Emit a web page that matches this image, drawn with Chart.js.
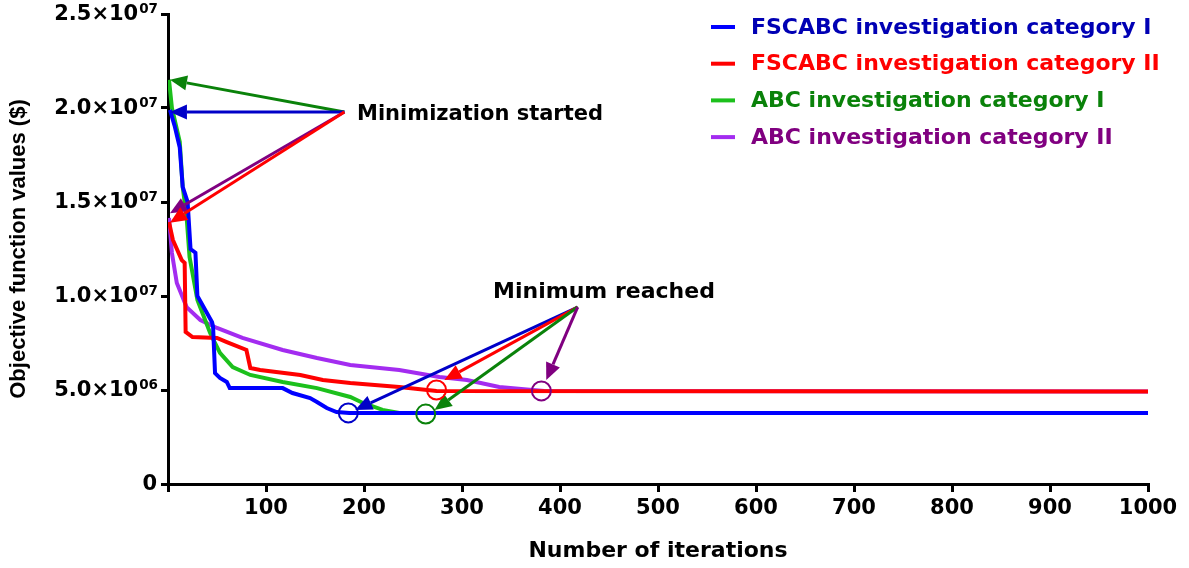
<!DOCTYPE html>
<html>
<head>
<meta charset="utf-8">
<script src="https://cdn.jsdelivr.net/npm/chart.js@4"></script>
<style>
  body { margin: 0; background: #fff; }
  #wrap { width: 1189px; height: 568px; }
</style>
</head>
<body>
<div id="wrap"><canvas id="myChart"></canvas></div>
<script>
// data (iterations / objective value in $)
const labels = ['FSCABC investigation category I', 'FSCABC investigation category II',
  'ABC investigation category I', 'ABC investigation category II'];

const iterBlue = [2, 7, 12, 15, 20, 23, 28, 30, 45, 46, 48, 53, 60, 63, 117, 127, 145, 152, 162, 172, 185, 1000];
const valBlue = [19.9e6, 19.0e6, 17.9e6, 15.8e6, 15.0e6, 12.5e6, 12.3e6, 10.0e6, 8.6e6, 8.35e6, 5.9e6, 5.64e6,
  5.43e6, 5.1e6, 5.1e6, 4.84e6, 4.57e6, 4.36e6, 4.04e6, 3.83e6, 3.78e6, 3.78e6];

const iterRed = [1, 5, 14, 17, 18, 25, 50, 60, 80, 84, 94, 135, 158, 186, 236, 274, 1000];
const valRed = [13.94e6, 12.98e6, 11.91e6, 11.76e6, 8.09e6, 7.82e6, 7.77e6, 7.55e6, 7.13e6, 6.17e6, 6.06e6,
  5.8e6, 5.53e6, 5.37e6, 5.16e6, 4.95e6, 4.92e6];

const iterGreen = [1, 4, 12, 15, 19, 22, 30, 43, 53, 66, 84, 117, 152, 186, 199, 219, 236, 1000];
const valGreen = [21.5e6, 20.0e6, 18.2e6, 15.8e6, 14.2e6, 12.07e6, 9.79e6, 8.03e6, 6.97e6, 6.22e6, 5.8e6,
  5.43e6, 5.1e6, 4.63e6, 4.31e6, 3.94e6, 3.78e6, 3.78e6];

const iterPurple = [1, 4, 9, 19, 33, 50, 76, 117, 152, 186, 236, 277, 305, 338, 372, 384, 1000];
const valPurple = [14.15e6, 12.29e6, 10.69e6, 9.41e6, 8.72e6, 8.3e6, 7.77e6, 7.13e6, 6.7e6, 6.33e6, 6.06e6,
  5.69e6, 5.53e6, 5.16e6, 5.0e6, 4.95e6, 4.92e6];

const yTickValues = [0, 5e6, 10e6, 15e6, 20e6, 25e6];
const yTickMantissa = ['0', '5.0', '1.0', '1.5', '2.0', '2.5'];
const yTickExp = ['', '06', '07', '07', '07', '07'];

// annotations, in data units
const startLabel = 'Minimization started';
const startFrom = [180, 19.79e6];
const startTips = [[2, 21.5e6], [2, 19.79e6], [2, 14.4e6], [2, 13.9e6]];
const minLabel = 'Minimum reached';
const minFrom = [418, 9.41e6];
const minTips = [[191, 3.94e6], [282, 5.53e6], [272, 3.94e6], [386, 5.53e6]];
const minCircles = [[184, 3.78e6], [274, 5.0e6], [263, 3.72e6], [381, 4.95e6]];

const lineColors = ['#0000ff', '#ff0000', '#1cc01c', '#a32cf0'];
const textColors = ['#0000b4', '#ff0000', '#0a820a', '#800080'];
const arrowStart = ['#0a820a', '#0000c8', '#800080', '#ff0000'];
const arrowMin = ['#0000c8', '#ff0000', '#0a820a', '#800080'];

function toPoints(xs, ys) {
  return xs.map((v, i) => ({ x: v, y: ys[i] }));
}

Chart.defaults.font.family = 'DejaVu Sans';
Chart.defaults.font.weight = 'bold';
Chart.defaults.color = '#000';

function arrow(ctx, x0, y0, x1, y1, color) {
  const ang = Math.atan2(y1 - y0, x1 - x0);
  const len = 17, half = 7.5;
  const bx = x1 - len * Math.cos(ang), by = y1 - len * Math.sin(ang);
  ctx.strokeStyle = color;
  ctx.fillStyle = color;
  ctx.lineWidth = 3;
  ctx.beginPath();
  ctx.moveTo(x0, y0);
  ctx.lineTo(bx, by);
  ctx.stroke();
  ctx.beginPath();
  ctx.moveTo(x1, y1);
  ctx.lineTo(bx + half * Math.sin(ang), by - half * Math.cos(ang));
  ctx.lineTo(bx - half * Math.sin(ang), by + half * Math.cos(ang));
  ctx.closePath();
  ctx.fill();
}

const extras = {
  id: 'extras',
  afterDraw(chart) {
    const ctx = chart.ctx;
    const xs = chart.scales.x, ys = chart.scales.y;
    const px = v => xs.getPixelForValue(v);
    const py = v => ys.getPixelForValue(v);
    ctx.save();

    // y tick labels with superscript exponent
    ctx.fillStyle = '#000';
    yTickValues.forEach((v, i) => {
      const y = py(v);
      const right = 158;
      ctx.font = 'bold 13.5px "DejaVu Sans"';
      const ew = yTickExp[i] ? ctx.measureText(yTickExp[i]).width : 0;
      ctx.textAlign = 'left';
      ctx.textBaseline = 'alphabetic';
      if (yTickExp[i]) ctx.fillText(yTickExp[i], right - ew, y - 1);
      ctx.font = 'bold 21px "DejaVu Sans"';
      ctx.textAlign = 'right';
      ctx.textBaseline = 'middle';
      const main = yTickExp[i] ? yTickMantissa[i] + '\u00d710' : yTickMantissa[i];
      ctx.fillText(main, right - ew - 1, y + 1);
    });

    // legend
    chart.data.datasets.forEach((ds, i) => {
      const y = 27 + i * 36.7;
      ctx.strokeStyle = ds.borderColor;
      ctx.lineWidth = 4;
      ctx.beginPath();
      ctx.moveTo(711, y);
      ctx.lineTo(735, y);
      ctx.stroke();
      ctx.fillStyle = textColors[i];
      ctx.font = 'bold 22px "DejaVu Sans"';
      ctx.textAlign = 'left';
      ctx.textBaseline = 'middle';
      ctx.fillText(ds.label, 751, y + 1);
    });

    // arrows and circles
    startTips.forEach((t, i) => arrow(ctx, px(startFrom[0]), py(startFrom[1]), px(t[0]), py(t[1]), arrowStart[i]));
    minTips.forEach((t, i) => arrow(ctx, px(minFrom[0]), py(minFrom[1]), px(t[0]), py(t[1]), arrowMin[i]));
    ctx.lineWidth = 2;
    minCircles.forEach((c, i) => {
      ctx.strokeStyle = arrowMin[i];
      ctx.beginPath();
      ctx.arc(px(c[0]), py(c[1]), 9.5, 0, Math.PI * 2);
      ctx.stroke();
    });

    ctx.fillStyle = '#000';
    ctx.font = 'bold 21px "DejaVu Sans"';
    ctx.textBaseline = 'middle';
    ctx.textAlign = 'left';
    ctx.fillText(startLabel, 357, py(startFrom[1]) + 3);
    ctx.font = 'bold 22px "DejaVu Sans"';
    ctx.textAlign = 'center';
    ctx.fillText(minLabel, 604, py(minFrom[1]) - 15);
    ctx.restore();
  }
};

new Chart(document.getElementById('myChart'), {
  type: 'line',
  data: {
    datasets: [
      { label: labels[0], data: toPoints(iterBlue, valBlue), borderColor: lineColors[0] },
      { label: labels[1], data: toPoints(iterRed, valRed), borderColor: lineColors[1] },
      { label: labels[2], data: toPoints(iterGreen, valGreen), borderColor: lineColors[2] },
      { label: labels[3], data: toPoints(iterPurple, valPurple), borderColor: lineColors[3] }
    ]
  },
  options: {
    responsive: true,
    maintainAspectRatio: false,
    animation: false,
    layout: { padding: { top: 14, right: 41, left: 0, bottom: 0 } },
    elements: {
      line: { borderWidth: 4, tension: 0, fill: false },
      point: { radius: 0 }
    },
    plugins: { legend: { display: false }, tooltip: { enabled: false } },
    scales: {
      x: {
        type: 'linear',
        min: 0,
        max: 1000,
        ticks: {
          stepSize: 100,
          padding: 4,
          font: { size: 21, weight: 'bold' },
          callback: v => (v === 0 ? '' : v)
        },
        grid: { drawOnChartArea: false, color: '#000', lineWidth: 3, tickLength: 8 },
        border: { color: '#000', width: 3 },
        title: { display: true, text: 'Number of iterations', font: { size: 22, weight: 'bold' }, padding: { top: 4, bottom: 4 } },
        afterFit(s) { s.height = 84; }
      },
      y: {
        min: 0,
        max: 25e6,
        ticks: { stepSize: 5e6, display: false },
        grid: { drawOnChartArea: false, color: '#000', lineWidth: 3, tickLength: 7 },
        border: { color: '#000', width: 3 },
        title: {
          display: true,
          text: 'Objective function values ($)',
          font: { family: 'Liberation Sans', size: 22, weight: 'bold' },
          padding: { top: 6, bottom: 0 }
        },
        afterFit(s) { s.width = 168; }
      }
    }
  },
  plugins: [extras]
});
</script>
</body>
</html>
